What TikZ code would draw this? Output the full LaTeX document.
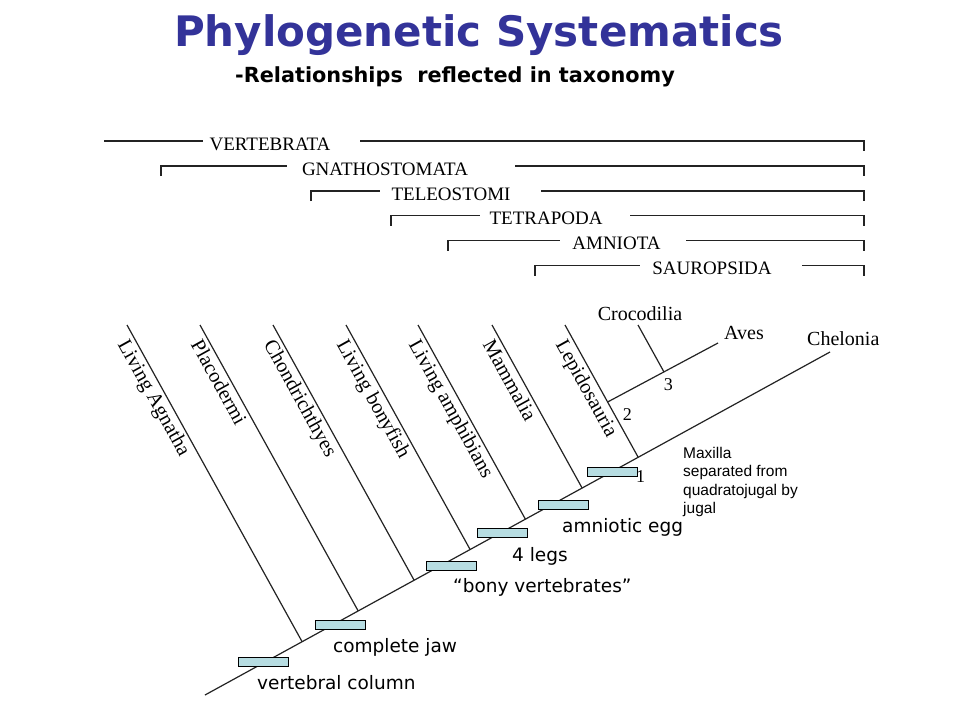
\documentclass[tikz,border=0pt]{standalone}
\usepackage{fontspec}
\setmainfont{Liberation Serif}
\newfontfamily\titlefont{DejaVu Sans}
\newfontfamily\labsans{DejaVu Sans}
\newfontfamily\notefont{Liberation Sans}
\definecolor{titleblue}{RGB}{51,51,153}
\definecolor{barfill}{RGB}{183,221,226}
\definecolor{inkline}{RGB}{35,35,35}
\begin{document}
\begin{tikzpicture}[x=1pt,y=-1pt,
  tline/.style={draw=inkline, line width=1.2pt},
  cladelab/.style={font=\fontsize{19}{21}\selectfont, inner sep=0pt, anchor=base},
  taxon/.style={font=\fontsize{20.5}{22}\selectfont, inner sep=0pt, anchor=north west, rotate=-61},
  taxonh/.style={font=\fontsize{20}{22}\selectfont, inner sep=0pt},
  numlab/.style={font=\fontsize{18}{20}\selectfont, inner sep=0pt},
  charbar/.style={draw=black, line width=0.9pt, fill=barfill, minimum width=50pt, minimum height=9pt, inner sep=0pt},
  charlab/.style={font=\labsans\fontsize{18.5}{20}\selectfont, inner sep=0pt, anchor=base west}
]
\useasboundingbox[fill=white] (0,0) rectangle (960,720);

% ---- titles
\node[font=\titlefont\bfseries\fontsize{42}{46}\selectfont, text=titleblue, anchor=base, inner sep=0pt] (title) at (479,46) {Phylogenetic Systematics};
\node[font=\titlefont\bfseries\fontsize{20.8}{22}\selectfont, anchor=base west, inner sep=0pt] (subtitle) at (235,82) {-Relationships\ \ reflected in taxonomy};

% ---- clade brackets
% VERTEBRATA
\node[cladelab] (vert) at (270,150) {VERTEBRATA};
\draw[tline] (104,141) -- (203,141);
\draw[tline] (360,141) -- (864,141) -- (864,151);
% GNATHOSTOMATA
\node[cladelab] (gnat) at (385,175) {GNATHOSTOMATA};
\draw[tline] (161,176) -- (161,166) -- (287,166);
\draw[tline] (515,166) -- (864,166) -- (864,176);
% TELEOSTOMI
\node[cladelab] (tele) at (451,200) {TELEOSTOMI};
\draw[tline] (311,201) -- (311,191) -- (380,191);
\draw[tline] (541,191) -- (864,191) -- (864,201);
% TETRAPODA
\node[cladelab] (tetr) at (546,224.5) {TETRAPODA};
\draw[tline] (391,225.5) -- (391,215.5) -- (480,215.5);
\draw[tline] (630,215.5) -- (864,215.5) -- (864,225.5);
% AMNIOTA
\node[cladelab] (amni) at (616.5,249.5) {AMNIOTA};
\draw[tline] (448,250.5) -- (448,240.5) -- (560,240.5);
\draw[tline] (686,240.5) -- (864,240.5) -- (864,250.5);
% SAUROPSIDA
\node[cladelab] (saur) at (712,274.5) {SAUROPSIDA};
\draw[tline] (535,275.5) -- (535,265.5) -- (640,265.5);
\draw[tline] (802,265.5) -- (864,265.5) -- (864,275.5);

% ---- cladogram coordinates
\coordinate (ax0) at (205,695);
\coordinate (ax1) at (830,352);
\coordinate (t1) at (127,325);   \coordinate (b1) at (302.1,641.7);
\coordinate (t2) at (200,325);   \coordinate (b2) at (358.2,611.0);
\coordinate (t3) at (273,325);   \coordinate (b3) at (414.1,580.2);
\coordinate (t4) at (346,325);   \coordinate (b4) at (470.1,549.5);
\coordinate (t5) at (418,325);   \coordinate (b5) at (525.4,519.2);
\coordinate (t6) at (492,325);   \coordinate (b6) at (582.1,488.0);
\coordinate (t7) at (565,325);   \coordinate (b7) at (638.2,457.3);
\coordinate (av0) at (607.6,402);
\coordinate (av1) at (718,343);
\coordinate (cr0) at (638,325);
\coordinate (cr1) at (664,372);

\draw[tline] (ax0) -- (ax1);
\foreach \i in {1,...,7} { \draw[tline] (t\i) -- (b\i); }
\draw[tline] (av0) -- (av1);
\draw[tline] (cr0) -- (cr1);

% ---- taxon labels
\node[taxon] (lagn) at (130,337.5) {Living Agnatha};
\node[taxon] (plac) at (203,337.5) {Placodermi};
\node[taxon] (chon) at (276,337.5) {Chondrichthyes};
\node[taxon] (lbon) at (349,337.5) {Living bonyfish};
\node[taxon] (lamp) at (421,337.5) {Living amphibians};
\node[taxon] (mamm) at (495,337.5) {Mammalia};
\node[taxon] (lepi) at (568,337.5) {Lepidosauria};
\node[taxonh, anchor=base] (croc) at (640,320) {Crocodilia};
\node[taxonh, anchor=base] (aves) at (744,339.5) {Aves};
\node[taxonh, anchor=base west] (chel) at (807,345) {Chelonia};

% ---- node numbers
\node[numlab] (n3) at (668.3,384.3) {3};
\node[numlab] (n2) at (627.3,415) {2};

% ---- character bars
\node[charbar] (c1) at (263.3,661.7) {};
\node[charbar] (c2) at (340.5,625) {};
\node[charbar] (c3) at (451.3,565.7) {};
\node[charbar] (c4) at (502.2,533.2) {};
\node[charbar] (c5) at (563.5,505) {};
\node[charbar] (c6) at (612.7,472.2) {};
\node[numlab] (n1) at (640.5,476.7) {1};

% ---- character labels
\node[charlab] (l1) at (257,689) {vertebral column};
\node[charlab] (l2) at (333,652) {complete jaw};
\node[charlab] (l3) at (453,592) {“bony vertebrates”};
\node[charlab] (l4) at (512,561) {4 legs};
\node[charlab] (l5) at (562,532) {amniotic egg};
\node[font=\notefont\fontsize{15.5}{18.5}\selectfont, align=left, anchor=north west, inner sep=0pt] (note) at (683,447) {Maxilla\\separated from\\quadratojugal by\\jugal};
\end{tikzpicture}
\end{document}
